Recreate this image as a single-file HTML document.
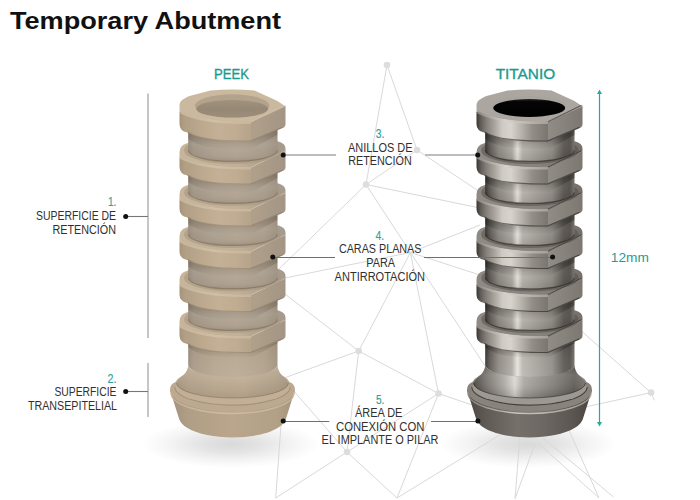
<!DOCTYPE html>
<html><head><meta charset="utf-8"><style>
html,body{margin:0;padding:0;background:#fff;}
body{width:700px;height:500px;overflow:hidden;position:relative;}
svg{position:absolute;left:0;top:0;display:block;}
text{font-family:"Liberation Sans",sans-serif;}
</style></head><body>
<svg width="700" height="500" viewBox="0 0 700 500">
<defs><radialGradient id="shadow" cx="0.5" cy="0.5" r="0.5"><stop offset="0" stop-color="#d9d9d9"/><stop offset="0.35" stop-color="#e4e4e4"/><stop offset="0.7" stop-color="#f4f4f4"/><stop offset="1" stop-color="#ffffff"/></radialGradient><linearGradient id="pff" x1="0" y1="0" x2="1" y2="0"><stop offset="0" stop-color="#a5937b"/><stop offset="0.08" stop-color="#b19f86"/><stop offset="0.3" stop-color="#bba88d"/><stop offset="0.55" stop-color="#c4b096"/><stop offset="0.8" stop-color="#bfac91"/><stop offset="1" stop-color="#b5a38a"/></linearGradient><linearGradient id="pfr" x1="0" y1="0" x2="1" y2="0"><stop offset="0" stop-color="#b0a08b"/><stop offset="1" stop-color="#a39584"/></linearGradient><linearGradient id="pneck" x1="0" y1="0" x2="1" y2="0"><stop offset="0" stop-color="#8c7f70"/><stop offset="0.06" stop-color="#9b8e7f"/><stop offset="0.3" stop-color="#a89b8a"/><stop offset="0.55" stop-color="#ad9f8d"/><stop offset="0.85" stop-color="#a39685"/><stop offset="1" stop-color="#958878"/></linearGradient><linearGradient id="ptopg" x1="0" y1="0" x2="1" y2="0"><stop offset="0" stop-color="#c6b59b"/><stop offset="0.55" stop-color="#c2b198"/><stop offset="0.8" stop-color="#ae9f8d"/><stop offset="1" stop-color="#a39a8e"/></linearGradient><linearGradient id="pneck6" x1="0" y1="0" x2="1" y2="0"><stop offset="0" stop-color="#96887a"/><stop offset="0.06" stop-color="#a69784"/><stop offset="0.3" stop-color="#b2a38d"/><stop offset="0.55" stop-color="#b6a791"/><stop offset="0.85" stop-color="#ad9e89"/><stop offset="1" stop-color="#9f907c"/></linearGradient><linearGradient id="pcone" x1="0" y1="0" x2="1" y2="0"><stop offset="0" stop-color="#a3927d"/><stop offset="0.15" stop-color="#b09e86"/><stop offset="0.5" stop-color="#b9a68b"/><stop offset="0.85" stop-color="#b2a087"/><stop offset="1" stop-color="#a5937d"/></linearGradient><linearGradient id="pflare" x1="0" y1="0" x2="1" y2="0"><stop offset="0" stop-color="#a89884"/><stop offset="0.1" stop-color="#b3a28c"/><stop offset="0.35" stop-color="#bdac94"/><stop offset="0.6" stop-color="#bfae95"/><stop offset="0.9" stop-color="#b0a08a"/><stop offset="1" stop-color="#a69581"/></linearGradient><linearGradient id="phole" x1="0" y1="0" x2="0" y2="1"><stop offset="0" stop-color="#a19280"/><stop offset="0.5" stop-color="#978875"/><stop offset="1" stop-color="#9c8d7a"/></linearGradient><linearGradient id="pflarev" x1="0" y1="0" x2="0" y2="1"><stop offset="0" stop-color="rgba(255,250,235,0.18)"/><stop offset="0.4" stop-color="rgba(255,250,235,0.05)"/><stop offset="0.75" stop-color="rgba(60,40,20,0.05)"/><stop offset="1" stop-color="rgba(60,40,20,0.12)"/></linearGradient><linearGradient id="pneckv" x1="0" y1="0" x2="0" y2="1"><stop offset="0" stop-color="rgba(255,250,240,0)"/><stop offset="0.5" stop-color="rgba(255,250,240,0.12)"/><stop offset="0.8" stop-color="rgba(255,250,240,0.05)"/><stop offset="1" stop-color="rgba(60,40,20,0.12)"/></linearGradient><linearGradient id="pneck6v" x1="0" y1="0" x2="0" y2="1"><stop offset="0" stop-color="rgba(255,250,240,0.0)"/><stop offset="0.5" stop-color="rgba(255,250,240,0.06)"/><stop offset="1" stop-color="rgba(255,250,240,0.1)"/></linearGradient><linearGradient id="pnshadow" x1="0" y1="0" x2="0" y2="1"><stop offset="0" stop-color="rgba(70,50,25,0.3)"/><stop offset="1" stop-color="rgba(0,0,0,0)"/></linearGradient><linearGradient id="tff" x1="0" y1="0" x2="1" y2="0"><stop offset="0" stop-color="#3a3632"/><stop offset="0.06" stop-color="#625d58"/><stop offset="0.14" stop-color="#85807a"/><stop offset="0.25" stop-color="#a8a39d"/><stop offset="0.36" stop-color="#cfcac4"/><stop offset="0.48" stop-color="#d8d3cd"/><stop offset="0.62" stop-color="#b9b4ae"/><stop offset="0.78" stop-color="#928d87"/><stop offset="1" stop-color="#7a756f"/></linearGradient><linearGradient id="tfr" x1="0" y1="0" x2="1" y2="0"><stop offset="0" stop-color="#918c86"/><stop offset="1" stop-color="#7c7771"/></linearGradient><linearGradient id="tneck" x1="0" y1="0" x2="1" y2="0"><stop offset="0" stop-color="#2e2a27"/><stop offset="0.05" stop-color="#57524d"/><stop offset="0.15" stop-color="#8a857f"/><stop offset="0.3" stop-color="#aca7a1"/><stop offset="0.36" stop-color="#e6e1db"/><stop offset="0.42" stop-color="#b8b3ad"/><stop offset="0.6" stop-color="#a29d97"/><stop offset="0.75" stop-color="#8d8882"/><stop offset="0.88" stop-color="#57524d"/><stop offset="0.95" stop-color="#4f4a46"/><stop offset="1" stop-color="#726d67"/></linearGradient><linearGradient id="ttopg" x1="0" y1="0" x2="1" y2="0"><stop offset="0" stop-color="#8f8a84"/><stop offset="0.55" stop-color="#88837d"/><stop offset="1" stop-color="#75706b"/></linearGradient><linearGradient id="tneck6" x1="0" y1="0" x2="1" y2="0"><stop offset="0" stop-color="#2e2a27"/><stop offset="0.05" stop-color="#57524d"/><stop offset="0.15" stop-color="#8a857f"/><stop offset="0.3" stop-color="#aca7a1"/><stop offset="0.36" stop-color="#e6e1db"/><stop offset="0.42" stop-color="#b8b3ad"/><stop offset="0.6" stop-color="#a29d97"/><stop offset="0.75" stop-color="#8d8882"/><stop offset="0.88" stop-color="#57524d"/><stop offset="0.95" stop-color="#4f4a46"/><stop offset="1" stop-color="#726d67"/></linearGradient><linearGradient id="tcone" x1="0" y1="0" x2="1" y2="0"><stop offset="0" stop-color="#4a4540"/><stop offset="0.15" stop-color="#5f5a55"/><stop offset="0.4" stop-color="#75706a"/><stop offset="0.6" stop-color="#6d6863"/><stop offset="0.85" stop-color="#5b5651"/><stop offset="1" stop-color="#47423e"/></linearGradient><linearGradient id="tflare" x1="0" y1="0" x2="1" y2="0"><stop offset="0" stop-color="#3c3834"/><stop offset="0.1" stop-color="#68635e"/><stop offset="0.28" stop-color="#aaa59f"/><stop offset="0.37" stop-color="#d8d3cd"/><stop offset="0.45" stop-color="#a5a09a"/><stop offset="0.7" stop-color="#7d7873"/><stop offset="0.9" stop-color="#57524d"/><stop offset="1" stop-color="#6d6863"/></linearGradient><linearGradient id="thole" x1="0" y1="0" x2="0" y2="1"><stop offset="0" stop-color="#2a2826"/><stop offset="0.15" stop-color="#050505"/><stop offset="1" stop-color="#000000"/></linearGradient><linearGradient id="tflarev" x1="0" y1="0" x2="0" y2="1"><stop offset="0" stop-color="rgba(255,255,255,0.0)"/><stop offset="0.3" stop-color="rgba(255,255,255,0.15)"/><stop offset="0.6" stop-color="rgba(255,255,255,0.1)"/><stop offset="1" stop-color="rgba(0,0,0,0.15)"/></linearGradient><linearGradient id="tneckv" x1="0" y1="0" x2="0" y2="1"><stop offset="0" stop-color="rgba(255,255,255,0)"/><stop offset="0.5" stop-color="rgba(255,255,255,0.06)"/><stop offset="1" stop-color="rgba(0,0,0,0.1)"/></linearGradient><linearGradient id="tneck6v" x1="0" y1="0" x2="0" y2="1"><stop offset="0" stop-color="rgba(255,255,255,0.0)"/><stop offset="0.5" stop-color="rgba(255,255,255,0.08)"/><stop offset="1" stop-color="rgba(255,255,255,0.1)"/></linearGradient><linearGradient id="tnshadow" x1="0" y1="0" x2="0" y2="1"><stop offset="0" stop-color="rgba(20,18,15,0.5)"/><stop offset="1" stop-color="rgba(0,0,0,0)"/></linearGradient><linearGradient id="pbevg" x1="0" y1="0" x2="1" y2="0"><stop offset="0" stop-color="#c6b59b"/><stop offset="0.5" stop-color="#d0bfa5"/><stop offset="1" stop-color="#c7b69c"/></linearGradient><linearGradient id="tbevg" x1="0" y1="0" x2="1" y2="0"><stop offset="0" stop-color="#8a857f"/><stop offset="0.4" stop-color="#d6d1cb"/><stop offset="0.7" stop-color="#bcb7b1"/><stop offset="1" stop-color="#a39e98"/></linearGradient></defs>
<rect width="700" height="500" fill="#fff"/>
<ellipse cx="231" cy="444" rx="88" ry="24" fill="url(#shadow)"/>
<ellipse cx="528" cy="444" rx="88" ry="24" fill="url(#shadow)"/>
<g stroke="#d9d9d9" stroke-width="1" fill="none"><line x1="387" y1="65" x2="417" y2="150"/><line x1="387" y1="65" x2="366" y2="184.5"/><line x1="417" y1="150" x2="366" y2="184.5"/><line x1="417" y1="150" x2="480" y2="192"/><line x1="366" y1="184.5" x2="480" y2="208"/><line x1="366" y1="184.5" x2="278" y2="270"/><line x1="366" y1="184.5" x2="410.4" y2="252.5"/><line x1="410.4" y1="252.5" x2="480" y2="225"/><line x1="410.4" y1="252.5" x2="480" y2="275"/><line x1="410.4" y1="252.5" x2="280" y2="279"/><line x1="410.4" y1="252.5" x2="358.7" y2="351"/><line x1="410.4" y1="252.5" x2="438.5" y2="393.5"/><line x1="410.4" y1="252.5" x2="485" y2="366"/><line x1="281" y1="291" x2="358.7" y2="351"/><line x1="358.7" y1="351" x2="284" y2="378"/><line x1="358.7" y1="351" x2="438.5" y2="393.5"/><line x1="358.7" y1="351" x2="347" y2="452"/><line x1="292" y1="389" x2="347" y2="452"/><line x1="438.5" y1="393.5" x2="472" y2="405"/><line x1="438.5" y1="393.5" x2="347" y2="452"/><line x1="438.5" y1="393.5" x2="397" y2="498"/><line x1="347" y1="452" x2="275.7" y2="498"/><line x1="347" y1="452" x2="397" y2="498"/><line x1="281.5" y1="418" x2="275.7" y2="498"/><line x1="503" y1="433" x2="397" y2="498"/><line x1="520" y1="436" x2="515" y2="498.7"/><line x1="535" y1="444" x2="515" y2="498.7"/><line x1="568" y1="428" x2="599" y2="498"/><line x1="538" y1="443" x2="599" y2="498"/><line x1="543" y1="438" x2="613.5" y2="497"/><line x1="651" y1="392.6" x2="578" y2="328"/><line x1="651" y1="392.6" x2="585" y2="407"/><line x1="651" y1="392.6" x2="654.4" y2="400.3"/></g><g fill="#dddddd"><circle cx="387" cy="65" r="3.3"/><circle cx="417" cy="150" r="3.3"/><circle cx="366" cy="184.5" r="3.3"/><circle cx="358.7" cy="351" r="3.3"/><circle cx="438.5" cy="393.5" r="3.3"/><circle cx="347" cy="452" r="3.3"/><circle cx="651" cy="392.6" r="3.3"/></g>
<path d="M170.0,390 L178.5,417 Q180.0,424 187.5,428 C207.5,440.5 257.5,440.5 277.5,428 Q285.0,424 286.5,417 L295.0,390 Z" fill="url(#pcone)"/>
<path d="M170.0,390 Q170.0,384 175.5,382 A58,20 0 0,1 289.5,382 Q295.0,384 295.0,390 A62.5,22 0 0,1 170.0,390 Z" fill="#bca98f"/>
<path d="M171.0,393 A61.5,20.5 0 0,0 294.0,393" fill="none" stroke="url(#pbevg)" stroke-width="1.5" opacity="0.9"/>
<path d="M175.0,387 A57.5,18 0 0,0 290.0,387" fill="none" stroke="#a3927d" stroke-width="1.3"/>
<ellipse cx="232.5" cy="387" rx="57" ry="17.5" fill="#c2af96"/>
<path d="M188.2,340 L277.5,340 L277.5,365 A44.6,12 0 0,1 188.2,365 Z" fill="url(#pneck6)"/>
<path d="M188.2,340 L277.5,340 L277.5,365 A44.6,12 0 0,1 188.2,365 Z" fill="url(#pneck6v)"/>
<path d="M188.2,365 A44.6,12 0 0,0 277.5,365 C277.5,373 284.5,377 288.5,383 A56,15 0 0,1 176.5,383 C180.5,377 188.2,373 188.2,365 Z" fill="url(#pflare)"/>
<path d="M188.2,365 A44.6,12 0 0,0 277.5,365 C277.5,373 284.5,377 288.5,383 A56,15 0 0,1 176.5,383 C180.5,377 188.2,373 188.2,365 Z" fill="url(#pflarev)"/>
<path d="M288.5,383 A56,15 0 0,1 176.5,383" fill="none" stroke="rgba(90,75,55,0.35)" stroke-width="1"/>
<path d="M188.2,340.5 Q202.5,352.0 251.0,351.0 L277.5,336.5 L277.5,343.5 L251.0,358.0 Q202.5,359.0 188.2,347.5 Z" fill="url(#pnshadow)"/>
<path d="M179.5,326.0 Q202.5,337.5 251.0,336.5 L251.0,353.0 Q202.5,354.0 187.5,344.0 Q179.5,342.5 179.5,335.5 Z" fill="url(#pff)"/>
<path d="M251.0,336.5 L285.5,320.0 L285.5,335.5 Q285.5,338.5 282.5,339.5 L251.0,353.0 Z" fill="url(#pfr)"/>
<path d="M187.5,343.4 Q202.5,353.4 251.0,352.4 L282.5,338.9" fill="none" stroke="rgba(90,75,55,0.25)" stroke-width="1.2"/>
<path d="M179.5,326.0 L179.5,321.5 Q179.5,314.5 186.5,312.5 L207.5,305.5 Q232.5,303.5 257.5,305.5 L278.5,310.5 Q285.5,312.5 285.5,317.5 L285.5,320.0 L251.0,336.5 Q202.5,337.5 179.5,326.0 Z" fill="url(#ptopg)"/>
<path d="M180.5,326.8 Q202.5,338.3 251.0,337.3" fill="none" stroke="url(#pbevg)" stroke-width="2.4"/>
<path d="M251.0,336.2 L284.5,319.7" fill="none" stroke="rgba(215,200,178,0.28)" stroke-width="1.1"/>
<ellipse cx="232.8" cy="319.5" rx="48.7" ry="13.5" fill="#a89781" opacity="0.6"/>
<path d="M188.2,298.0 L277.5,298.0 L277.5,319.5 A44.7,11.5 0 0,1 188.2,319.5 Z" fill="url(#pneck)"/>
<path d="M188.2,298.0 L277.5,298.0 L277.5,319.5 A44.7,11.5 0 0,1 188.2,319.5 Z" fill="url(#pneckv)"/>
<path d="M277.5,319.5 A44.7,11.5 0 0,1 188.2,319.5" fill="none" stroke="rgba(90,75,55,0.35)" stroke-width="1.3"/>
<path d="M188.2,299.5 Q202.5,311.0 251.0,310.0 L277.5,295.5 L277.5,305.5 L251.0,320.0 Q202.5,321.0 188.2,309.5 Z" fill="url(#pnshadow)"/>
<path d="M179.5,284.5 Q202.5,296.0 251.0,295.0 L251.0,312.0 Q202.5,313.0 187.5,303.0 Q179.5,301.5 179.5,294.5 Z" fill="url(#pff)"/>
<path d="M251.0,295.0 L285.5,278.5 L285.5,294.5 Q285.5,297.5 282.5,298.5 L251.0,312.0 Z" fill="url(#pfr)"/>
<path d="M187.5,302.4 Q202.5,312.4 251.0,311.4 L282.5,297.9" fill="none" stroke="rgba(90,75,55,0.25)" stroke-width="1.2"/>
<path d="M179.5,284.5 L179.5,280.0 Q179.5,273.0 186.5,271.0 L207.5,264.0 Q232.5,262.0 257.5,264.0 L278.5,269.0 Q285.5,271.0 285.5,276.0 L285.5,278.5 L251.0,295.0 Q202.5,296.0 179.5,284.5 Z" fill="url(#ptopg)"/>
<path d="M180.5,285.3 Q202.5,296.8 251.0,295.8" fill="none" stroke="url(#pbevg)" stroke-width="2.4"/>
<path d="M251.0,294.7 L284.5,278.2" fill="none" stroke="rgba(215,200,178,0.28)" stroke-width="1.1"/>
<ellipse cx="232.8" cy="278.0" rx="48.7" ry="13.5" fill="#a89781" opacity="0.6"/>
<path d="M188.2,255.0 L277.5,255.0 L277.5,278.0 A44.7,11.5 0 0,1 188.2,278.0 Z" fill="url(#pneck)"/>
<path d="M188.2,255.0 L277.5,255.0 L277.5,278.0 A44.7,11.5 0 0,1 188.2,278.0 Z" fill="url(#pneckv)"/>
<path d="M277.5,278.0 A44.7,11.5 0 0,1 188.2,278.0" fill="none" stroke="rgba(90,75,55,0.35)" stroke-width="1.3"/>
<path d="M188.2,256.5 Q202.5,268.0 251.0,267.0 L277.5,252.5 L277.5,262.5 L251.0,277.0 Q202.5,278.0 188.2,266.5 Z" fill="url(#pnshadow)"/>
<path d="M179.5,241.0 Q202.5,252.5 251.0,251.5 L251.0,269.0 Q202.5,270.0 187.5,260.0 Q179.5,258.5 179.5,251.5 Z" fill="url(#pff)"/>
<path d="M251.0,251.5 L285.5,235.0 L285.5,251.5 Q285.5,254.5 282.5,255.5 L251.0,269.0 Z" fill="url(#pfr)"/>
<path d="M187.5,259.4 Q202.5,269.4 251.0,268.4 L282.5,254.9" fill="none" stroke="rgba(90,75,55,0.25)" stroke-width="1.2"/>
<path d="M179.5,241.0 L179.5,236.5 Q179.5,229.5 186.5,227.5 L207.5,220.5 Q232.5,218.5 257.5,220.5 L278.5,225.5 Q285.5,227.5 285.5,232.5 L285.5,235.0 L251.0,251.5 Q202.5,252.5 179.5,241.0 Z" fill="url(#ptopg)"/>
<path d="M180.5,241.8 Q202.5,253.3 251.0,252.3" fill="none" stroke="url(#pbevg)" stroke-width="2.4"/>
<path d="M251.0,251.2 L284.5,234.7" fill="none" stroke="rgba(215,200,178,0.28)" stroke-width="1.1"/>
<ellipse cx="232.8" cy="234.5" rx="48.7" ry="13.5" fill="#a89781" opacity="0.6"/>
<path d="M188.2,212.5 L277.5,212.5 L277.5,234.5 A44.7,11.5 0 0,1 188.2,234.5 Z" fill="url(#pneck)"/>
<path d="M188.2,212.5 L277.5,212.5 L277.5,234.5 A44.7,11.5 0 0,1 188.2,234.5 Z" fill="url(#pneckv)"/>
<path d="M277.5,234.5 A44.7,11.5 0 0,1 188.2,234.5" fill="none" stroke="rgba(90,75,55,0.35)" stroke-width="1.3"/>
<path d="M188.2,214.0 Q202.5,225.5 251.0,224.5 L277.5,210.0 L277.5,220.0 L251.0,234.5 Q202.5,235.5 188.2,224.0 Z" fill="url(#pnshadow)"/>
<path d="M179.5,199.0 Q202.5,210.5 251.0,209.5 L251.0,226.5 Q202.5,227.5 187.5,217.5 Q179.5,216.0 179.5,209.0 Z" fill="url(#pff)"/>
<path d="M251.0,209.5 L285.5,193.0 L285.5,209.0 Q285.5,212.0 282.5,213.0 L251.0,226.5 Z" fill="url(#pfr)"/>
<path d="M187.5,216.9 Q202.5,226.9 251.0,225.9 L282.5,212.4" fill="none" stroke="rgba(90,75,55,0.25)" stroke-width="1.2"/>
<path d="M179.5,199.0 L179.5,194.5 Q179.5,187.5 186.5,185.5 L207.5,178.5 Q232.5,176.5 257.5,178.5 L278.5,183.5 Q285.5,185.5 285.5,190.5 L285.5,193.0 L251.0,209.5 Q202.5,210.5 179.5,199.0 Z" fill="url(#ptopg)"/>
<path d="M180.5,199.8 Q202.5,211.3 251.0,210.3" fill="none" stroke="url(#pbevg)" stroke-width="2.4"/>
<path d="M251.0,209.2 L284.5,192.7" fill="none" stroke="rgba(215,200,178,0.28)" stroke-width="1.1"/>
<ellipse cx="232.8" cy="192.5" rx="48.7" ry="13.5" fill="#a89781" opacity="0.6"/>
<path d="M188.2,170.5 L277.5,170.5 L277.5,192.5 A44.7,11.5 0 0,1 188.2,192.5 Z" fill="url(#pneck)"/>
<path d="M188.2,170.5 L277.5,170.5 L277.5,192.5 A44.7,11.5 0 0,1 188.2,192.5 Z" fill="url(#pneckv)"/>
<path d="M277.5,192.5 A44.7,11.5 0 0,1 188.2,192.5" fill="none" stroke="rgba(90,75,55,0.35)" stroke-width="1.3"/>
<path d="M188.2,172.0 Q202.5,183.5 251.0,182.5 L277.5,168.0 L277.5,178.0 L251.0,192.5 Q202.5,193.5 188.2,182.0 Z" fill="url(#pnshadow)"/>
<path d="M179.5,157.0 Q202.5,168.5 251.0,167.5 L251.0,184.5 Q202.5,185.5 187.5,175.5 Q179.5,174.0 179.5,167.0 Z" fill="url(#pff)"/>
<path d="M251.0,167.5 L285.5,151.0 L285.5,167.0 Q285.5,170.0 282.5,171.0 L251.0,184.5 Z" fill="url(#pfr)"/>
<path d="M187.5,174.9 Q202.5,184.9 251.0,183.9 L282.5,170.4" fill="none" stroke="rgba(90,75,55,0.25)" stroke-width="1.2"/>
<path d="M179.5,157.0 L179.5,152.5 Q179.5,145.5 186.5,143.5 L207.5,136.5 Q232.5,134.5 257.5,136.5 L278.5,141.5 Q285.5,143.5 285.5,148.5 L285.5,151.0 L251.0,167.5 Q202.5,168.5 179.5,157.0 Z" fill="url(#ptopg)"/>
<path d="M180.5,157.8 Q202.5,169.3 251.0,168.3" fill="none" stroke="url(#pbevg)" stroke-width="2.4"/>
<path d="M251.0,167.2 L284.5,150.7" fill="none" stroke="rgba(215,200,178,0.28)" stroke-width="1.1"/>
<ellipse cx="232.8" cy="150.5" rx="48.7" ry="13.5" fill="#a89781" opacity="0.6"/>
<path d="M188.2,127.5 L277.5,127.5 L277.5,150.5 A44.7,11.5 0 0,1 188.2,150.5 Z" fill="url(#pneck)"/>
<path d="M188.2,127.5 L277.5,127.5 L277.5,150.5 A44.7,11.5 0 0,1 188.2,150.5 Z" fill="url(#pneckv)"/>
<path d="M277.5,150.5 A44.7,11.5 0 0,1 188.2,150.5" fill="none" stroke="rgba(90,75,55,0.35)" stroke-width="1.3"/>
<path d="M188.2,129.0 Q202.5,140.5 251.0,139.5 L277.5,125.0 L277.5,135.0 L251.0,149.5 Q202.5,150.5 188.2,139.0 Z" fill="url(#pnshadow)"/>
<path d="M179.5,111.5 Q202.5,123.0 251.0,122.0 L251.0,141.5 Q202.5,142.5 187.5,132.5 Q179.5,131.0 179.5,124.0 Z" fill="url(#pff)"/>
<path d="M251.0,122.0 L285.5,105.5 L285.5,124.0 Q285.5,127.0 282.5,128.0 L251.0,141.5 Z" fill="url(#pfr)"/>
<path d="M187.5,131.9 Q202.5,141.9 251.0,140.9 L282.5,127.4" fill="none" stroke="rgba(90,75,55,0.25)" stroke-width="1.2"/>
<path d="M179.5,111.5 L179.5,106.0 C179.5,101.0 182.5,99.0 189.5,96.0 L210.5,90.5 Q232.5,88.5 254.5,90.5 L277.5,101.0 C282.5,104.5 285.5,106.0 285.5,106.5 L251.0,122.0 Q202.5,123.0 179.5,111.5 Z" fill="#cbb99f"/>
<path d="M180.5,112.3 Q202.5,123.8 251.0,122.8" fill="none" stroke="url(#pbevg)" stroke-width="2.4"/>
<path d="M251.0,121.7 L284.5,105.2" fill="none" stroke="rgba(215,200,178,0.28)" stroke-width="1.1"/>
<ellipse cx="232.2" cy="105.8" rx="37.3" ry="11.5" fill="#b3a38d"/>
<ellipse cx="232.2" cy="108.8" rx="36" ry="8.8" fill="url(#phole)"/>
<path d="M467.0,390 L475.5,417 Q477.0,424 484.5,428 C504.5,440.5 554.5,440.5 574.5,428 Q582.0,424 583.5,417 L592.0,390 Z" fill="url(#tcone)"/>
<path d="M467.0,390 Q467.0,384 472.5,382 A58,20 0 0,1 586.5,382 Q592.0,384 592.0,390 A62.5,22 0 0,1 467.0,390 Z" fill="#88837d"/>
<path d="M468.0,393 A61.5,20.5 0 0,0 591.0,393" fill="none" stroke="url(#tbevg)" stroke-width="1.5" opacity="0.9"/>
<path d="M472.0,387 A57.5,18 0 0,0 587.0,387" fill="none" stroke="#45403c" stroke-width="1.3"/>
<ellipse cx="529.5" cy="387" rx="57" ry="17.5" fill="#9d9892"/>
<path d="M485.2,340 L574.5,340 L574.5,365 A44.6,12 0 0,1 485.2,365 Z" fill="url(#tneck6)"/>
<path d="M485.2,340 L574.5,340 L574.5,365 A44.6,12 0 0,1 485.2,365 Z" fill="url(#tneck6v)"/>
<path d="M485.2,365 A44.6,12 0 0,0 574.5,365 C574.5,373 581.5,377 585.5,383 A56,15 0 0,1 473.5,383 C477.5,377 485.2,373 485.2,365 Z" fill="url(#tflare)"/>
<path d="M485.2,365 A44.6,12 0 0,0 574.5,365 C574.5,373 581.5,377 585.5,383 A56,15 0 0,1 473.5,383 C477.5,377 485.2,373 485.2,365 Z" fill="url(#tflarev)"/>
<path d="M585.5,383 A56,15 0 0,1 473.5,383" fill="none" stroke="rgba(25,22,20,0.5)" stroke-width="1"/>
<path d="M485.2,340.5 Q499.5,352.0 548.0,351.0 L574.5,336.5 L574.5,343.5 L548.0,358.0 Q499.5,359.0 485.2,347.5 Z" fill="url(#tnshadow)"/>
<path d="M476.5,326.0 Q499.5,337.5 548.0,336.5 L548.0,353.0 Q499.5,354.0 484.5,344.0 Q476.5,342.5 476.5,335.5 Z" fill="url(#tff)"/>
<path d="M548.0,336.5 L582.5,320.0 L582.5,335.5 Q582.5,338.5 579.5,339.5 L548.0,353.0 Z" fill="url(#tfr)"/>
<path d="M484.5,343.4 Q499.5,353.4 548.0,352.4 L579.5,338.9" fill="none" stroke="rgba(30,28,25,0.55)" stroke-width="1.2"/>
<path d="M476.5,326.0 L476.5,321.5 Q476.5,314.5 483.5,312.5 L504.5,305.5 Q529.5,303.5 554.5,305.5 L575.5,310.5 Q582.5,312.5 582.5,317.5 L582.5,320.0 L548.0,336.5 Q499.5,337.5 476.5,326.0 Z" fill="url(#ttopg)"/>
<path d="M477.5,326.8 Q499.5,338.3 548.0,337.3" fill="none" stroke="url(#tbevg)" stroke-width="2.4"/>
<path d="M548.0,336.2 L581.5,319.7" fill="none" stroke="rgba(40,36,32,0.6)" stroke-width="1.1"/>
<ellipse cx="529.9" cy="319.5" rx="48.7" ry="13.5" fill="#4a4541" opacity="0.45"/>
<path d="M485.2,298.0 L574.5,298.0 L574.5,319.5 A44.7,11.5 0 0,1 485.2,319.5 Z" fill="url(#tneck)"/>
<path d="M485.2,298.0 L574.5,298.0 L574.5,319.5 A44.7,11.5 0 0,1 485.2,319.5 Z" fill="url(#tneckv)"/>
<path d="M574.5,319.5 A44.7,11.5 0 0,1 485.2,319.5" fill="none" stroke="rgba(25,22,20,0.5)" stroke-width="1.3"/>
<path d="M485.2,299.5 Q499.5,311.0 548.0,310.0 L574.5,295.5 L574.5,305.5 L548.0,320.0 Q499.5,321.0 485.2,309.5 Z" fill="url(#tnshadow)"/>
<path d="M476.5,284.5 Q499.5,296.0 548.0,295.0 L548.0,312.0 Q499.5,313.0 484.5,303.0 Q476.5,301.5 476.5,294.5 Z" fill="url(#tff)"/>
<path d="M548.0,295.0 L582.5,278.5 L582.5,294.5 Q582.5,297.5 579.5,298.5 L548.0,312.0 Z" fill="url(#tfr)"/>
<path d="M484.5,302.4 Q499.5,312.4 548.0,311.4 L579.5,297.9" fill="none" stroke="rgba(30,28,25,0.55)" stroke-width="1.2"/>
<path d="M476.5,284.5 L476.5,280.0 Q476.5,273.0 483.5,271.0 L504.5,264.0 Q529.5,262.0 554.5,264.0 L575.5,269.0 Q582.5,271.0 582.5,276.0 L582.5,278.5 L548.0,295.0 Q499.5,296.0 476.5,284.5 Z" fill="url(#ttopg)"/>
<path d="M477.5,285.3 Q499.5,296.8 548.0,295.8" fill="none" stroke="url(#tbevg)" stroke-width="2.4"/>
<path d="M548.0,294.7 L581.5,278.2" fill="none" stroke="rgba(40,36,32,0.6)" stroke-width="1.1"/>
<ellipse cx="529.9" cy="278.0" rx="48.7" ry="13.5" fill="#4a4541" opacity="0.45"/>
<path d="M485.2,255.0 L574.5,255.0 L574.5,278.0 A44.7,11.5 0 0,1 485.2,278.0 Z" fill="url(#tneck)"/>
<path d="M485.2,255.0 L574.5,255.0 L574.5,278.0 A44.7,11.5 0 0,1 485.2,278.0 Z" fill="url(#tneckv)"/>
<path d="M574.5,278.0 A44.7,11.5 0 0,1 485.2,278.0" fill="none" stroke="rgba(25,22,20,0.5)" stroke-width="1.3"/>
<path d="M485.2,256.5 Q499.5,268.0 548.0,267.0 L574.5,252.5 L574.5,262.5 L548.0,277.0 Q499.5,278.0 485.2,266.5 Z" fill="url(#tnshadow)"/>
<path d="M476.5,241.0 Q499.5,252.5 548.0,251.5 L548.0,269.0 Q499.5,270.0 484.5,260.0 Q476.5,258.5 476.5,251.5 Z" fill="url(#tff)"/>
<path d="M548.0,251.5 L582.5,235.0 L582.5,251.5 Q582.5,254.5 579.5,255.5 L548.0,269.0 Z" fill="url(#tfr)"/>
<path d="M484.5,259.4 Q499.5,269.4 548.0,268.4 L579.5,254.9" fill="none" stroke="rgba(30,28,25,0.55)" stroke-width="1.2"/>
<path d="M476.5,241.0 L476.5,236.5 Q476.5,229.5 483.5,227.5 L504.5,220.5 Q529.5,218.5 554.5,220.5 L575.5,225.5 Q582.5,227.5 582.5,232.5 L582.5,235.0 L548.0,251.5 Q499.5,252.5 476.5,241.0 Z" fill="url(#ttopg)"/>
<path d="M477.5,241.8 Q499.5,253.3 548.0,252.3" fill="none" stroke="url(#tbevg)" stroke-width="2.4"/>
<path d="M548.0,251.2 L581.5,234.7" fill="none" stroke="rgba(40,36,32,0.6)" stroke-width="1.1"/>
<ellipse cx="529.9" cy="234.5" rx="48.7" ry="13.5" fill="#4a4541" opacity="0.45"/>
<path d="M485.2,212.5 L574.5,212.5 L574.5,234.5 A44.7,11.5 0 0,1 485.2,234.5 Z" fill="url(#tneck)"/>
<path d="M485.2,212.5 L574.5,212.5 L574.5,234.5 A44.7,11.5 0 0,1 485.2,234.5 Z" fill="url(#tneckv)"/>
<path d="M574.5,234.5 A44.7,11.5 0 0,1 485.2,234.5" fill="none" stroke="rgba(25,22,20,0.5)" stroke-width="1.3"/>
<path d="M485.2,214.0 Q499.5,225.5 548.0,224.5 L574.5,210.0 L574.5,220.0 L548.0,234.5 Q499.5,235.5 485.2,224.0 Z" fill="url(#tnshadow)"/>
<path d="M476.5,199.0 Q499.5,210.5 548.0,209.5 L548.0,226.5 Q499.5,227.5 484.5,217.5 Q476.5,216.0 476.5,209.0 Z" fill="url(#tff)"/>
<path d="M548.0,209.5 L582.5,193.0 L582.5,209.0 Q582.5,212.0 579.5,213.0 L548.0,226.5 Z" fill="url(#tfr)"/>
<path d="M484.5,216.9 Q499.5,226.9 548.0,225.9 L579.5,212.4" fill="none" stroke="rgba(30,28,25,0.55)" stroke-width="1.2"/>
<path d="M476.5,199.0 L476.5,194.5 Q476.5,187.5 483.5,185.5 L504.5,178.5 Q529.5,176.5 554.5,178.5 L575.5,183.5 Q582.5,185.5 582.5,190.5 L582.5,193.0 L548.0,209.5 Q499.5,210.5 476.5,199.0 Z" fill="url(#ttopg)"/>
<path d="M477.5,199.8 Q499.5,211.3 548.0,210.3" fill="none" stroke="url(#tbevg)" stroke-width="2.4"/>
<path d="M548.0,209.2 L581.5,192.7" fill="none" stroke="rgba(40,36,32,0.6)" stroke-width="1.1"/>
<ellipse cx="529.9" cy="192.5" rx="48.7" ry="13.5" fill="#4a4541" opacity="0.45"/>
<path d="M485.2,170.5 L574.5,170.5 L574.5,192.5 A44.7,11.5 0 0,1 485.2,192.5 Z" fill="url(#tneck)"/>
<path d="M485.2,170.5 L574.5,170.5 L574.5,192.5 A44.7,11.5 0 0,1 485.2,192.5 Z" fill="url(#tneckv)"/>
<path d="M574.5,192.5 A44.7,11.5 0 0,1 485.2,192.5" fill="none" stroke="rgba(25,22,20,0.5)" stroke-width="1.3"/>
<path d="M485.2,172.0 Q499.5,183.5 548.0,182.5 L574.5,168.0 L574.5,178.0 L548.0,192.5 Q499.5,193.5 485.2,182.0 Z" fill="url(#tnshadow)"/>
<path d="M476.5,157.0 Q499.5,168.5 548.0,167.5 L548.0,184.5 Q499.5,185.5 484.5,175.5 Q476.5,174.0 476.5,167.0 Z" fill="url(#tff)"/>
<path d="M548.0,167.5 L582.5,151.0 L582.5,167.0 Q582.5,170.0 579.5,171.0 L548.0,184.5 Z" fill="url(#tfr)"/>
<path d="M484.5,174.9 Q499.5,184.9 548.0,183.9 L579.5,170.4" fill="none" stroke="rgba(30,28,25,0.55)" stroke-width="1.2"/>
<path d="M476.5,157.0 L476.5,152.5 Q476.5,145.5 483.5,143.5 L504.5,136.5 Q529.5,134.5 554.5,136.5 L575.5,141.5 Q582.5,143.5 582.5,148.5 L582.5,151.0 L548.0,167.5 Q499.5,168.5 476.5,157.0 Z" fill="url(#ttopg)"/>
<path d="M477.5,157.8 Q499.5,169.3 548.0,168.3" fill="none" stroke="url(#tbevg)" stroke-width="2.4"/>
<path d="M548.0,167.2 L581.5,150.7" fill="none" stroke="rgba(40,36,32,0.6)" stroke-width="1.1"/>
<ellipse cx="529.9" cy="150.5" rx="48.7" ry="13.5" fill="#4a4541" opacity="0.45"/>
<path d="M485.2,127.5 L574.5,127.5 L574.5,150.5 A44.7,11.5 0 0,1 485.2,150.5 Z" fill="url(#tneck)"/>
<path d="M485.2,127.5 L574.5,127.5 L574.5,150.5 A44.7,11.5 0 0,1 485.2,150.5 Z" fill="url(#tneckv)"/>
<path d="M574.5,150.5 A44.7,11.5 0 0,1 485.2,150.5" fill="none" stroke="rgba(25,22,20,0.5)" stroke-width="1.3"/>
<path d="M485.2,129.0 Q499.5,140.5 548.0,139.5 L574.5,125.0 L574.5,135.0 L548.0,149.5 Q499.5,150.5 485.2,139.0 Z" fill="url(#tnshadow)"/>
<path d="M476.5,111.5 Q499.5,123.0 548.0,122.0 L548.0,141.5 Q499.5,142.5 484.5,132.5 Q476.5,131.0 476.5,124.0 Z" fill="url(#tff)"/>
<path d="M548.0,122.0 L582.5,105.5 L582.5,124.0 Q582.5,127.0 579.5,128.0 L548.0,141.5 Z" fill="url(#tfr)"/>
<path d="M484.5,131.9 Q499.5,141.9 548.0,140.9 L579.5,127.4" fill="none" stroke="rgba(30,28,25,0.55)" stroke-width="1.2"/>
<path d="M476.5,111.5 L476.5,106.0 C476.5,101.0 479.5,99.0 486.5,96.0 L507.5,90.5 Q529.5,88.5 551.5,90.5 L574.5,101.0 C579.5,104.5 582.5,106.0 582.5,106.5 L548.0,122.0 Q499.5,123.0 476.5,111.5 Z" fill="#aba6a0"/>
<path d="M477.5,112.3 Q499.5,123.8 548.0,122.8" fill="none" stroke="url(#tbevg)" stroke-width="2.4"/>
<path d="M548.0,121.7 L581.5,105.2" fill="none" stroke="rgba(40,36,32,0.6)" stroke-width="1.1"/>
<ellipse cx="529.2" cy="106.4" rx="37" ry="10.5" fill="#a7a39e"/>
<ellipse cx="529.2" cy="108" rx="36" ry="9" fill="url(#thole)"/>
<g stroke="#c6c6c6" stroke-width="2"><line x1="148" y1="93.5" x2="148" y2="338"/><line x1="148" y1="363" x2="148" y2="417"/></g>
<g stroke="#777" stroke-width="1.1"><line x1="126" y1="216.5" x2="148" y2="216.5"/><line x1="126" y1="391.5" x2="148" y2="391.5"/></g>
<g stroke="#bdbdbd" stroke-width="1.8"><line x1="283" y1="155" x2="336" y2="155"/><line x1="425" y1="155" x2="478" y2="155"/></g>
<g stroke="#6f6f6f" stroke-width="1.2"><line x1="273" y1="257.5" x2="335" y2="257.5"/><line x1="424" y1="257.5" x2="552.6" y2="257.5"/>
<line x1="283" y1="421.5" x2="329.3" y2="421.5"/><line x1="431" y1="421.5" x2="478" y2="421.5"/></g>
<g fill="#111"><circle cx="125.7" cy="216.4" r="2.5"/><circle cx="125.7" cy="391.4" r="2.5"/>
<circle cx="283.2" cy="154.9" r="2.5"/><circle cx="477.7" cy="154.9" r="2.5"/>
<circle cx="272.8" cy="257" r="2.5"/><circle cx="552.6" cy="257" r="2.5"/>
<circle cx="283.2" cy="421" r="2.5"/><circle cx="477.9" cy="421" r="2.5"/></g>
<g stroke="#30a59c" stroke-width="1.2"><line x1="599.5" y1="92" x2="599.5" y2="424"/></g>
<g fill="#30a59c"><path d="M599.5,89.5 L597,94 L602,94 Z"/><path d="M599.5,426.5 L597,422 L602,422 Z"/></g>
<text x="10" y="28.6" font-size="24.5" font-weight="bold" fill="#111" textLength="271" lengthAdjust="spacingAndGlyphs">Temporary Abutment</text>
<g fill="#1a9a90" font-size="15" stroke="#1a9a90" stroke-width="0.35">
<text x="214" y="79" textLength="35" lengthAdjust="spacingAndGlyphs">PEEK</text>
<text x="495.7" y="79.3" textLength="59.5" lengthAdjust="spacingAndGlyphs">TITANIO</text>
<text x="610.8" y="261.5" font-size="13" stroke="none" fill="#1f9d93" textLength="38" lengthAdjust="spacingAndGlyphs">12mm</text>
</g>
<g fill="#2aa39a" font-size="12.5" stroke="#2aa39a" stroke-width="0.15">
<text x="108" y="206" textLength="8.3" lengthAdjust="spacingAndGlyphs">1.</text>
<text x="107.5" y="383" textLength="9" lengthAdjust="spacingAndGlyphs">2.</text>
<text x="375.7" y="137.7" textLength="8.6" lengthAdjust="spacingAndGlyphs">3.</text>
<text x="375.5" y="239.8" textLength="8.6" lengthAdjust="spacingAndGlyphs">4.</text>
<text x="376" y="403.6" textLength="8.4" lengthAdjust="spacingAndGlyphs">5.</text>
</g>
<g fill="#303030" font-size="12">
<text x="36" y="220" textLength="80" lengthAdjust="spacingAndGlyphs">SUPERFICIE DE</text>
<text x="52.6" y="233.5" textLength="63.4" lengthAdjust="spacingAndGlyphs">RETENCIÓN</text>
<text x="54.4" y="396.4" textLength="62" lengthAdjust="spacingAndGlyphs">SUPERFICIE</text>
<text x="28" y="410" textLength="89" lengthAdjust="spacingAndGlyphs">TRANSEPITELIAL</text>
<text x="348" y="152" textLength="64.6" lengthAdjust="spacingAndGlyphs">ANILLOS DE</text>
<text x="348.3" y="164.6" textLength="63.4" lengthAdjust="spacingAndGlyphs">RETENCIÓN</text>
<text x="338.9" y="253.3" textLength="82.6" lengthAdjust="spacingAndGlyphs">CARAS PLANAS</text>
<text x="366.3" y="267" textLength="28.7" lengthAdjust="spacingAndGlyphs">PARA</text>
<text x="334.6" y="280.7" textLength="90.4" lengthAdjust="spacingAndGlyphs">ANTIRROTACIÓN</text>
<text x="355" y="417" textLength="47.4" lengthAdjust="spacingAndGlyphs">ÁREA DE</text>
<text x="336" y="430.6" textLength="88.4" lengthAdjust="spacingAndGlyphs">CONEXIÓN CON</text>
<text x="321.6" y="444" textLength="116.8" lengthAdjust="spacingAndGlyphs">EL IMPLANTE O PILAR</text>
</g>
</svg>
</body></html>
